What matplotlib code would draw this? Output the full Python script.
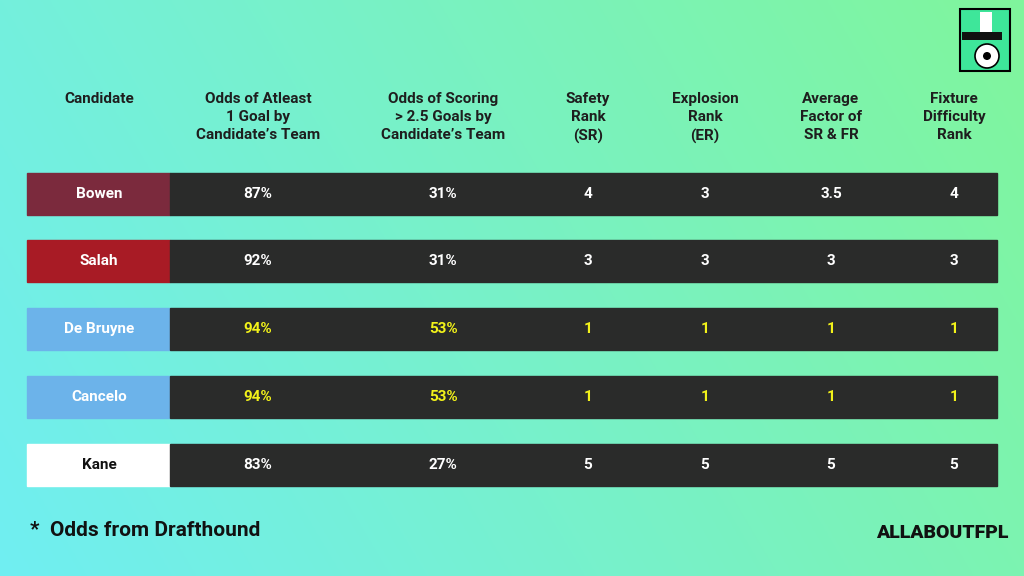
import numpy as np
import matplotlib.pyplot as plt
from matplotlib.patches import Rectangle, Circle

headers = ["Candidate", "Odds of Atleast\n1 Goal by\nCandidate\u2019s Team",
           "Odds of Scoring\n> 2.5 Goals by\nCandidate\u2019s Team", "Safety\nRank\n(SR)",
           "Explosion\nRank\n(ER)", "Average\nFactor of\nSR & FR", "Fixture\nDifficulty\nRank"]
names = ["Bowen", "Salah", "De Bruyne", "Cancelo", "Kane"]
odds_1goal = ["87%", "92%", "94%", "94%", "83%"]
odds_25 = ["31%", "31%", "53%", "53%", "27%"]
safety = ["4", "3", "1", "1", "5"]
explosion = ["3", "3", "1", "1", "5"]
average = ["3.5", "3", "1", "1", "5"]
fixture = ["4", "3", "1", "1", "5"]
name_colors = ["#7b2a3d", "#a81b25", "#6cb3ea", "#6cb3ea", "#ffffff"]
highlight = [False, False, True, True, False]

plt.rcParams["font.family"] = "Roboto"
fig = plt.figure(figsize=(10.24, 5.76), dpi=100)
ax = fig.add_axes([0, 0, 1, 1])
ax.set_xlim(0, 1024)
ax.set_ylim(576, 0)
ax.axis("off")

# gradient background
g = np.linspace(0, 1, 256)
xx, yy = np.meshgrid(g, g)
t = np.clip(0.75 * xx + 0.25 * (1 - yy), 0, 1)
c0 = np.array([0x70, 0xee, 0xf2]) / 255
c1 = np.array([0x80, 0xf5, 0x9c]) / 255
img = c0[None, None, :] * (1 - t[..., None]) + c1[None, None, :] * t[..., None]
ax.imshow(img, extent=[0, 1024, 576, 0], aspect="auto", zorder=0)

col_x = [99, 258, 443, 588, 705, 831, 954]
for x, h in zip(col_x, headers):
    ax.text(x, 92, h, ha="center", va="top", fontsize=11, fontweight="bold",
            color="#1e1e1e", linespacing=1.38)

row_top = [173, 240, 308, 376, 444]
for i, y in enumerate(row_top):
    ax.add_patch(Rectangle((27, y), 143, 42, color=name_colors[i], zorder=1))
    ax.add_patch(Rectangle((170, y), 827, 42, color="#2a2b2a", zorder=1))
    ncol = "#111111" if name_colors[i] == "#ffffff" else "white"
    ax.text(col_x[0], y + 21, names[i], ha="center", va="center", fontsize=11,
            fontweight="bold", color=ncol, zorder=2)
    vals = [odds_1goal[i], odds_25[i], safety[i], explosion[i], average[i], fixture[i]]
    vc = "#f2f21a" if highlight[i] else "white"
    for x, v in zip(col_x[1:], vals):
        ax.text(x, y + 21, v, ha="center", va="center", fontsize=11,
                fontweight="bold", color=vc, zorder=2)

ax.text(30, 530, "*  Odds from Drafthound", ha="left", va="center", fontsize=15,
        fontweight="bold", color="#111111")
ax.text(1008, 533, "ALLABOUTFPL", ha="right", va="center", fontsize=14,
        fontweight="heavy", color="#111111")

# logo
ax.add_patch(Rectangle((960, 9), 50, 62, facecolor="#3ee69a", edgecolor="black", lw=1.5, zorder=3))
ax.add_patch(Rectangle((980, 12), 12, 22, facecolor="white", zorder=4))
ax.add_patch(Rectangle((962, 32), 40, 8, facecolor="#111111", zorder=4))
ax.add_patch(Circle((987, 56), 12, facecolor="white", edgecolor="black", lw=1.2, zorder=4))
ax.add_patch(Circle((987, 56), 4, facecolor="black", zorder=5))

fig.savefig("out.png", dpi=100)
